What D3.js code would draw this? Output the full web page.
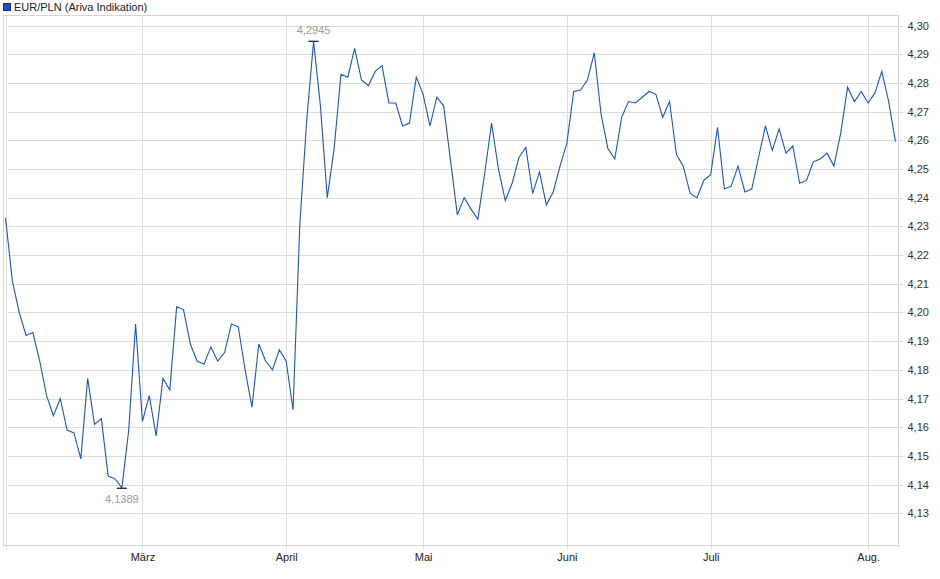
<!DOCTYPE html>
<html>
<head>
<meta charset="utf-8">
<script src="https://cdn.jsdelivr.net/npm/d3@7"></script>
<style>
  body { margin: 0; background: #fff; }
  text { font-family: "Liberation Sans", Arial, sans-serif; }
</style>
</head>
<body>
<div id="d3-container"></div>
<script>
/**
 * CONSTANTS AND GLOBALS
 * */
const width = 940,
  height = 579,
  frame = { left: 3.5, right: 898.5, top: 15.5, bottom: 545.5 };

/* DATA - daily EUR/PLN closes */
const rates = [
  4.233, 4.211, 4.200, 4.192, 4.193, 4.183, 4.171, 4.164, 4.170, 4.159,
  4.158, 4.149, 4.177, 4.161, 4.163, 4.143, 4.142, 4.1389, 4.159, 4.196,
  4.162, 4.171, 4.157, 4.177, 4.173, 4.202, 4.201, 4.189, 4.183, 4.182,
  4.188, 4.183, 4.186, 4.196, 4.195, 4.180, 4.167, 4.189, 4.183, 4.180,
  4.187, 4.183, 4.166, 4.231, 4.267, 4.2945, 4.272, 4.240, 4.257, 4.283,
  4.282, 4.292, 4.281, 4.279, 4.284, 4.286, 4.273, 4.273, 4.265, 4.266,
  4.282, 4.276, 4.265, 4.275, 4.272, 4.253, 4.234, 4.240, 4.236, 4.2325,
  4.2485, 4.266, 4.250, 4.239, 4.245, 4.254, 4.2575, 4.2415, 4.249, 4.2375,
  4.242, 4.251, 4.259, 4.277, 4.2775, 4.281, 4.2905, 4.269, 4.257, 4.2535,
  4.268, 4.2735, 4.273, 4.275, 4.277, 4.276, 4.268, 4.2735, 4.255, 4.251,
  4.2415, 4.240, 4.246, 4.248, 4.2645, 4.243, 4.244, 4.251, 4.242, 4.243,
  4.254, 4.265, 4.2565, 4.264, 4.2555, 4.258, 4.245, 4.246, 4.2525, 4.2535,
  4.2555, 4.251, 4.2625, 4.2785, 4.2735, 4.277, 4.273, 4.2765, 4.284, 4.2735,
  4.2595
];

// first trading day of each month (index into rates)
const monthIdx = [0, 20, 41, 61, 82, 103, 126];
const monthLabels = ["", "März", "April", "Mai", "Juni", "Juli", "Aug."];

const yTicks = [4.13, 4.14, 4.15, 4.16, 4.17, 4.18, 4.19, 4.20, 4.21, 4.22,
  4.23, 4.24, 4.25, 4.26, 4.27, 4.28, 4.29, 4.30];

const seriesName = "EUR/PLN (Ariva Indikation)";

const lineColor = "#1a55c4";
const fmt = d3.format(".4f");
const fmt2 = d3.format(".2f");
const deComma = s => s.replace(".", ",");

/* SCALES */
const xScale = d3.scaleLinear()
  .domain([0, rates.length - 1])
  .range([5.5, 895.5]);

const yScale = d3.scaleLinear()
  .domain([4.13, 4.30])
  .range([513.3, 25.5]);

const svg = d3.select("#d3-container")
  .append("svg")
  .attr("width", width)
  .attr("height", height);

// horizontal grid + right labels
const yAxis = d3.axisRight(yScale)
  .tickValues(yTicks)
  .tickSize(-(frame.right - frame.left))
  .tickPadding(5)
  .tickFormat(d => deComma(fmt2(d)));

svg.append("g")
  .attr("class", "y-axis")
  .attr("transform", `translate(${frame.right + 4},0)`)
  .call(yAxis)
  .call(g => g.select(".domain").remove())
  .call(g => g.selectAll(".tick line").attr("stroke", "#dcdcdc").attr("shape-rendering", "crispEdges"))
  .call(g => g.selectAll(".tick text").attr("fill", "#333").attr("font-size", "11px"));

// vertical grid at month starts + labels underneath
const xAxis = d3.axisBottom(xScale)
  .tickValues(monthIdx)
  .tickSize(-(frame.bottom - frame.top) - 3)
  .tickPadding(5)
  .tickFormat((d, i) => monthLabels[i]);

svg.append("g")
  .attr("class", "x-axis")
  .attr("transform", `translate(0,${frame.bottom + 3})`)
  .call(xAxis)
  .call(g => g.select(".domain").remove())
  .call(g => g.selectAll(".tick line").attr("stroke", "#dcdcdc").attr("shape-rendering", "crispEdges"))
  .call(g => g.selectAll(".tick text").attr("fill", "#222").attr("font-size", "11px"));

// plot frame
svg.append("rect")
  .attr("x", frame.left)
  .attr("y", frame.top)
  .attr("width", frame.right - frame.left)
  .attr("height", frame.bottom - frame.top)
  .attr("fill", "none")
  .attr("stroke", "#d4d4d4")
  .attr("shape-rendering", "crispEdges");

// the rate line
const lineFunc = d3.line()
  .x((d, i) => xScale(i))
  .y(d => yScale(d));

svg.append("path")
  .datum(rates)
  .attr("fill", "none")
  .attr("stroke", lineColor)
  .attr("stroke-width", 1.1)
  .attr("d", lineFunc);

// min / max markers
const maxI = d3.maxIndex(rates),
  minI = d3.minIndex(rates);

const marks = [
  { i: maxI, v: rates[maxI], dy: -7, color: "#a29b8f", stem: 3 },
  { i: minI, v: rates[minI], dy: 15, color: "#8e9dbb", stem: -1 },
];

svg.selectAll("line.mark")
  .data(marks)
  .join("line")
  .attr("class", "mark")
  .attr("x1", d => xScale(d.i) - 5)
  .attr("x2", d => xScale(d.i) + 5)
  .attr("y1", d => yScale(d.v) + (d.stem > 0 ? 0 : 0.5))
  .attr("y2", d => yScale(d.v) + (d.stem > 0 ? 0 : 0.5))
  .attr("stroke", "#111")
  .attr("stroke-width", 1.2);

svg.selectAll("text.mark-label")
  .data(marks)
  .join("text")
  .attr("class", "mark-label")
  .attr("x", d => xScale(d.i))
  .attr("y", d => yScale(d.v) + d.dy)
  .attr("text-anchor", "middle")
  .attr("fill", d => d.color)
  .attr("font-size", "11px")
  .text(d => deComma(fmt(d.v)));

// legend
svg.append("rect")
  .attr("x", 3.5)
  .attr("y", 3.5)
  .attr("width", 7)
  .attr("height", 7)
  .attr("fill", "#1f4fbf")
  .attr("stroke", "#123070");

svg.append("text")
  .attr("x", 14)
  .attr("y", 11)
  .attr("fill", "#222")
  .attr("font-size", "11px")
  .text(seriesName);
</script>
</body>
</html>
